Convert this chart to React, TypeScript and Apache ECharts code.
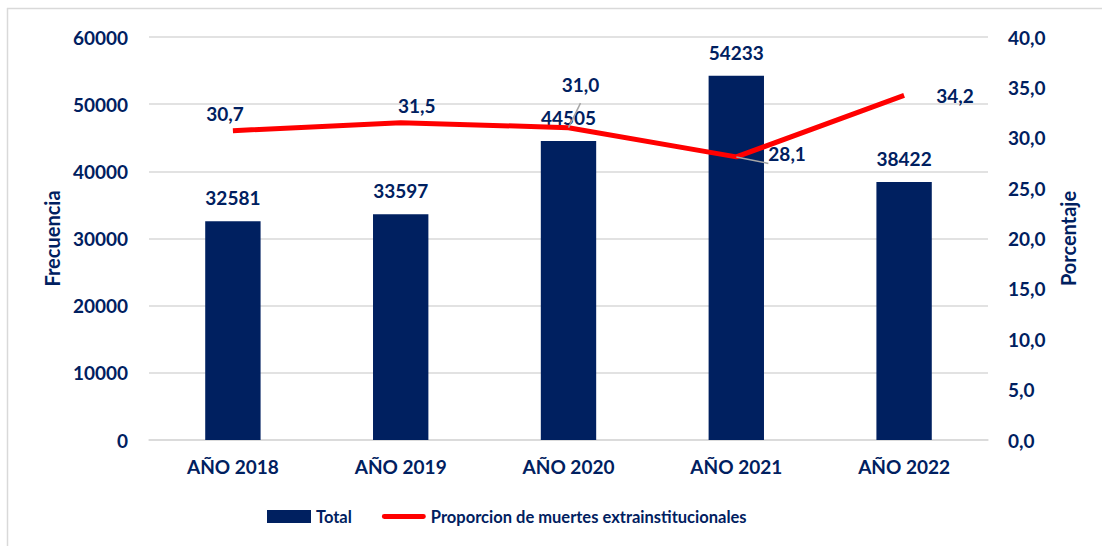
import React, { useEffect, useRef } from "react";
import * as echarts from "echarts";

const categories = ["AÑO 2018", "AÑO 2019", "AÑO 2020", "AÑO 2021", "AÑO 2022"];
const totals = [32581, 33597, 44505, 54233, 38422];
const proportions = [30.7, 31.5, 31.0, 28.1, 34.2];
const barName = "Total";
const lineName = "Proporcion de muertes extrainstitucionales";

const NAVY = "#002060";
const FONT = "Lato";
const FS = 19;

export default function App() {
  const ref = useRef<HTMLDivElement>(null);
  useEffect(() => {
    document.body.style.margin = "0";
    const chart = echarts.init(ref.current!, null, { renderer: "svg" });
    const fmt = (v: number) => v.toFixed(1).replace(".", ",");
    const lineLabelCfg = [
      { position: "top", distance: 8, offset: [-8, 0] },
      { position: "top", distance: 8, offset: [16, 0] },
      { position: "top", distance: 8, offset: [12, -26] },
      { position: "right", distance: 32, offset: [0, -3] },
      { position: "right", distance: 32, offset: [0, 0] },
    ];
    const showLeader = [false, false, true, true, false];
    chart.setOption({
      animation: false,
      textStyle: { fontFamily: FONT },
      graphic: [
        { type: "line", shape: { x1: 7.5, y1: 8, x2: 7.5, y2: 546 }, style: { stroke: "#d9d9d9", lineWidth: 1.5 } },
        { type: "line", shape: { x1: 7, y1: 8.5, x2: 1102, y2: 8.5 }, style: { stroke: "#d9d9d9", lineWidth: 1.5 } },
      ],
      grid: { left: 149, right: 114, top: 37, bottom: 106 },
      legend: {
        bottom: 16,
        left: 262,
        itemWidth: 44,
        itemHeight: 13,
        itemGap: 30,
        textStyle: { color: NAVY, fontWeight: "bold", fontSize: 16.5, fontFamily: FONT },
        data: [
          { name: barName, icon: "rect" },
          { name: lineName, icon: "path://M0,0 L0.01,0 L0,0.01 Z M0,13 L0.01,13 L0,12.99 Z M2.5,4 H42.5 A2.5,2.5 0 0 1 42.5,9 H2.5 A2.5,2.5 0 0 1 2.5,4 Z M44,0 L44,0.01 L43.99,0 Z" },
        ],
      },
      xAxis: {
        type: "category",
        data: categories,
        axisLine: { lineStyle: { color: "#d9d9d9", width: 1.5 } },
        axisTick: { show: false },
        axisLabel: { color: NAVY, fontWeight: "bold", fontSize: FS, margin: 17, fontFamily: FONT },
      },
      yAxis: [
        {
          type: "value",
          min: 0,
          max: 60000,
          interval: 10000,
          name: "Frecuencia",
          nameLocation: "middle",
          nameGap: 85,
          nameRotate: 90,
          nameTextStyle: { color: NAVY, fontWeight: "bold", fontSize: 20, fontFamily: FONT },
          axisLabel: { color: NAVY, fontWeight: "bold", fontSize: FS, margin: 21, fontFamily: FONT, formatter: (v: number) => String(v) },
          splitLine: { lineStyle: { color: "#d9d9d9", width: 1.5 } },
          axisLine: { show: false },
          axisTick: { show: false },
        },
        {
          type: "value",
          min: 0,
          max: 40,
          interval: 5,
          name: "Porcentaje",
          nameLocation: "middle",
          nameGap: 70,
          nameRotate: 90,
          nameTextStyle: { color: NAVY, fontWeight: "bold", fontSize: 20, fontFamily: FONT },
          axisLabel: { color: NAVY, fontWeight: "bold", fontSize: FS, margin: 20, fontFamily: FONT, formatter: (v: number) => fmt(v) },
          splitLine: { show: false },
          axisLine: { show: false },
          axisTick: { show: false },
        },
      ],
      series: [
        {
          name: barName,
          type: "bar",
          data: totals,
          barWidth: "33%",
          itemStyle: { color: NAVY },
          label: { show: true, position: "top", distance: 14, color: NAVY, fontWeight: "bold", fontSize: FS, fontFamily: FONT },
        },
        {
          name: lineName,
          type: "line",
          yAxisIndex: 1,
          data: proportions.map((v, i) => ({
            value: v,
            label: lineLabelCfg[i],
            labelLine: { show: showLeader[i] },
          })),
          symbol: "circle",
          symbolSize: 0.1,
          showSymbol: true,
          lineStyle: { color: "#ff0000", width: 5 },
          itemStyle: { color: "#ff0000" },
          label: {
            show: true,
            color: NAVY,
            fontWeight: "bold",
            fontSize: FS,
            fontFamily: FONT,
            formatter: (p: any) => fmt(p.value),
          },
          labelLine: { show: false, lineStyle: { color: "#a6a6a6", width: 1.5 } },
          z: 3,
        },
      ],
    });
    return () => chart.dispose();
  }, []);
  return <div ref={ref} style={{ width: 1102, height: 546 }} />;
}
